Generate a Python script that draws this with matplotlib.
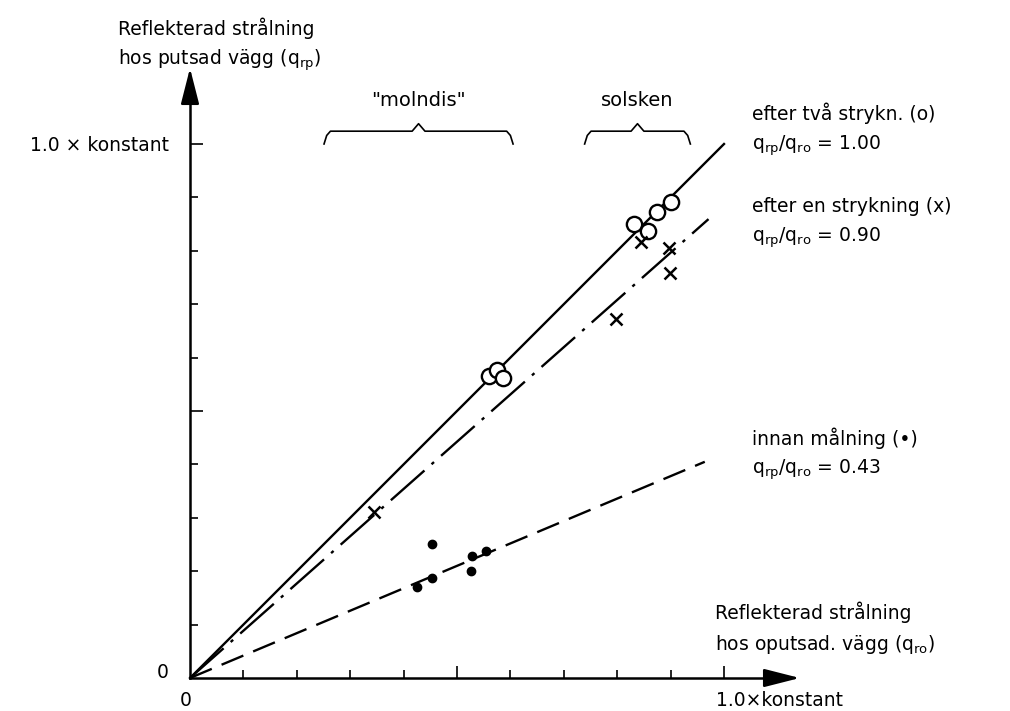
import matplotlib
matplotlib.use("Agg")
import matplotlib.pyplot as plt

# Mätpunkter (andel av konstant)
circles_x = [0.560, 0.574, 0.586, 0.832, 0.858, 0.875, 0.900]
circles_y = [0.566, 0.577, 0.561, 0.850, 0.837, 0.873, 0.892]
crosses_x = [0.345, 0.798, 0.844, 0.897, 0.898]
crosses_y = [0.311, 0.672, 0.817, 0.805, 0.758]
dots_x = [0.426, 0.453, 0.453, 0.527, 0.529, 0.554]
dots_y = [0.171, 0.188, 0.251, 0.201, 0.228, 0.238]

# Anpassade linjer: lutning och slut-x
line_slopes = [1.00, 0.885, 0.42]
line_ends = [1.00, 0.971, 0.964]
ratio_labels = ["1.00", "0.90", "0.43"]
series_names = ["efter två strykn. (o)", "efter en strykning (x)", "innan målning (•)"]

major_ticks = [0.5, 1.0]
minor_ticks = [0.1, 0.2, 0.3, 0.4, 0.6, 0.7, 0.8, 0.9]

# Klammer: "molndis" och "solsken"
brace_names = ['"molndis"', "solsken"]
brace_starts = [0.251, 0.739]
brace_stops = [0.605, 0.937]

plt.rcParams['font.family'] = ['DejaVu Sans']
plt.rcParams['mathtext.fontset'] = 'dejavusans'

fig = plt.figure(figsize=(10.1, 7.11), dpi=100)
ax = fig.add_axes([0, 0, 1, 1])
ax.set_xlim(-190 / 534, (1010 - 190) / 534)
ax.set_ylim(-(711 - 678) / 534, 678 / 534)

# axlar
for side in ['top', 'right']:
    ax.spines[side].set_visible(False)
for side in ['left', 'bottom']:
    ax.spines[side].set_position(('data', 0))
    ax.spines[side].set_linewidth(1.8)
ax.spines['left'].set_bounds(0, 1.10)
ax.spines['bottom'].set_bounds(0, 1.10)
ax.annotate('', xy=(0, 1.142), xytext=(0, 1.08),
            arrowprops=dict(arrowstyle='-|>,head_length=1.1,head_width=0.28', color='k',
                            lw=1.8, mutation_scale=20, shrinkA=0, shrinkB=0))
ax.annotate('', xy=(1.142, 0), xytext=(1.08, 0),
            arrowprops=dict(arrowstyle='-|>,head_length=1.1,head_width=0.28', color='k',
                            lw=1.8, mutation_scale=20, shrinkA=0, shrinkB=0))

ax.set_xticks(major_ticks)
ax.set_yticks(major_ticks)
ax.set_xticks(minor_ticks, minor=True)
ax.set_yticks(minor_ticks, minor=True)
ax.tick_params(which='major', direction='in', length=9, width=1.2, labelbottom=False, labelleft=False)
ax.tick_params(which='minor', direction='in', length=5.5, width=1.2)

# linjer
styles = [dict(ls='-'), dict(dashes=(19, 4, 1.4, 4)), dict(dashes=(10, 4.5))]
for k in range(3):
    ax.plot([0, line_ends[k]], [0, line_slopes[k] * line_ends[k]], color='k', lw=1.7, **styles[k])

ax.plot(circles_x, circles_y, ls='none', marker='o', ms=11, mfc='white', mec='k', mew=1.7)
ax.plot(crosses_x, crosses_y, ls='none', marker='x', ms=9, mec='k', mew=1.8)
ax.plot(dots_x, dots_y, ls='none', marker='o', ms=6, mfc='k', mec='k')

# klammer
for name, a, b in zip(brace_names, brace_starts, brace_stops):
    m = (a + b) / 2
    bx = [a, a + 0.005, a + 0.012, m - 0.012, m, m + 0.012, b - 0.012, b - 0.005, b]
    by = [1.000, 1.016, 1.024, 1.024, 1.038, 1.024, 1.024, 1.016, 1.000]
    ax.plot(bx, by, color='k', lw=1.2)
    ax.text(m, 1.072, name, ha='center', va='baseline', fontsize=14)

fs = 13.5
# axeltexter
ax.text(-0.135, 1.205, "Reflekterad strålning", ha='left', va='baseline', fontsize=fs)
ax.text(-0.135, 1.148, "hos putsad vägg (q$_{\\mathrm{rp}}$)", ha='left', va='baseline', fontsize=fs)
ax.text(0.983, 0.110, "Reflekterad strålning", ha='left', va='baseline', fontsize=fs)
ax.text(0.983, 0.053, "hos oputsad. vägg (q$_{\\mathrm{ro}}$)", ha='left', va='baseline', fontsize=fs)

ax.text(-0.040, 0.998, "1.0 × konstant", ha='right', va='center', fontsize=fs)
ax.text(-0.040, 0.011, "0", ha='right', va='center', fontsize=fs)
ax.text(-0.009, -0.042, "0", ha='center', va='center', fontsize=fs)
ax.text(0.985, -0.042, "1.0×konstant", ha='left', va='center', fontsize=fs)

# serieetiketter
label_y = [1.045, 0.872, 0.437]
for k in range(3):
    ax.text(1.052, label_y[k], series_names[k], ha='left', va='baseline', fontsize=fs)
    ax.text(1.052, label_y[k] - 0.055,
            "q$_{\\mathrm{rp}}$/q$_{\\mathrm{ro}}$ = " + ratio_labels[k],
            ha='left', va='baseline', fontsize=fs)

fig.savefig("out.png", dpi=100, facecolor='white')
